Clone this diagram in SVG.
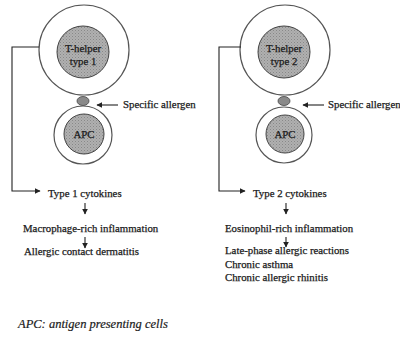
<svg xmlns="http://www.w3.org/2000/svg" width="400" height="338" viewBox="0 0 400 338">
<style>
.outer{fill:#fff;stroke:#555;stroke-width:1.2}
.inner{fill:url(#hatch);stroke:#444;stroke-width:1}
.allergen{fill:#8a8a8a;stroke:#444;stroke-width:0.8}
.t{font-family:"Liberation Serif","Times New Roman",serif;font-size:10.8px;fill:#1a1a1a;stroke:#1a1a1a;stroke-width:0.25}
.c{text-anchor:middle}
.cap{font-family:"Liberation Serif","Times New Roman",serif;font-size:12.5px;font-style:italic;fill:#1a1a1a;stroke:#1a1a1a;stroke-width:0.2}
.ln{fill:none;stroke:#222;stroke-width:1.1}
</style>
<defs>
<pattern id="hatch" width="3" height="3" patternUnits="userSpaceOnUse">
<rect width="3" height="3" fill="#b0b0b0"/>
<rect width="1" height="1" fill="#888"/>
<rect x="1.5" y="1.5" width="1" height="1" fill="#969696"/>
</pattern>
<marker id="ah" viewBox="0 0 10 10" refX="9" refY="5" markerWidth="6" markerHeight="6" markerUnits="userSpaceOnUse" orient="auto">
<path d="M0,0 L10,5 L0,10 z" fill="#222"/>
</marker>
</defs>
<rect width="400" height="338" fill="#fff"/>

<g id="th1">
<circle class="outer" cx="84" cy="50" r="45"/>
<circle class="inner" cx="83" cy="52" r="26"/>
<text class="t c" x="83" y="52" font-size="12">T-helper</text>
<text class="t c" x="83" y="65" font-size="12">type 1</text>
</g>
<g id="allergen1">
<ellipse class="allergen" cx="83" cy="101" rx="6" ry="4.5"/>
</g>
<g id="apc1">
<circle class="outer" cx="83" cy="135" r="29"/>
<circle class="inner" cx="84" cy="134" r="20"/>
<text class="t c" x="84" y="138" font-size="11.5">APC</text>
</g>

<g id="th2">
<circle class="outer" cx="285" cy="50" r="45"/>
<circle class="inner" cx="284" cy="52" r="26"/>
<text class="t c" x="284" y="52" font-size="12">T-helper</text>
<text class="t c" x="284" y="65" font-size="12">type 2</text>
</g>
<g id="allergen2">
<ellipse class="allergen" cx="284" cy="101" rx="6" ry="4.5"/>
</g>
<g id="apc2">
<circle class="outer" cx="284" cy="135" r="28"/>
<circle class="inner" cx="285" cy="134" r="19"/>
<text class="t c" x="285" y="138" font-size="11.5">APC</text>
</g>

<g id="labels">
<text class="t" x="123" y="108">Specific allergen</text>
<text class="t" x="328" y="108">Specific allergen</text>
<text class="t" x="48" y="197">Type 1 cytokines</text>
<text class="t" x="23" y="232">Macrophage-rich inflammation</text>
<text class="t" x="24" y="255">Allergic contact dermatitis</text>
<text class="t" x="253" y="197">Type 2 cytokines</text>
<text class="t" x="225" y="232">Eosinophil-rich inflammation</text>
<text class="t" x="225" y="254">Late-phase allergic reactions</text>
<text class="t" x="225" y="268">Chronic asthma</text>
<text class="t" x="225" y="281">Chronic allergic rhinitis</text>
<text class="cap" x="18" y="328">APC: antigen presenting cells</text>
</g>

<g id="connectors">
<path class="ln" d="M39 47 H12 V191 H40" marker-end="url(#ah)"/>
<path class="ln" d="M118 105 H97" marker-end="url(#ah)"/>
<path class="ln" d="M85 203 V214" marker-end="url(#ah)"/>
<path class="ln" d="M85 237 V248" marker-end="url(#ah)"/>
<path class="ln" d="M241 47 H219 V191 H245" marker-end="url(#ah)"/>
<path class="ln" d="M324 105 H303" marker-end="url(#ah)"/>
<path class="ln" d="M286 203 V214" marker-end="url(#ah)"/>
<path class="ln" d="M286 237 V247" marker-end="url(#ah)"/>
</g>
</svg>
